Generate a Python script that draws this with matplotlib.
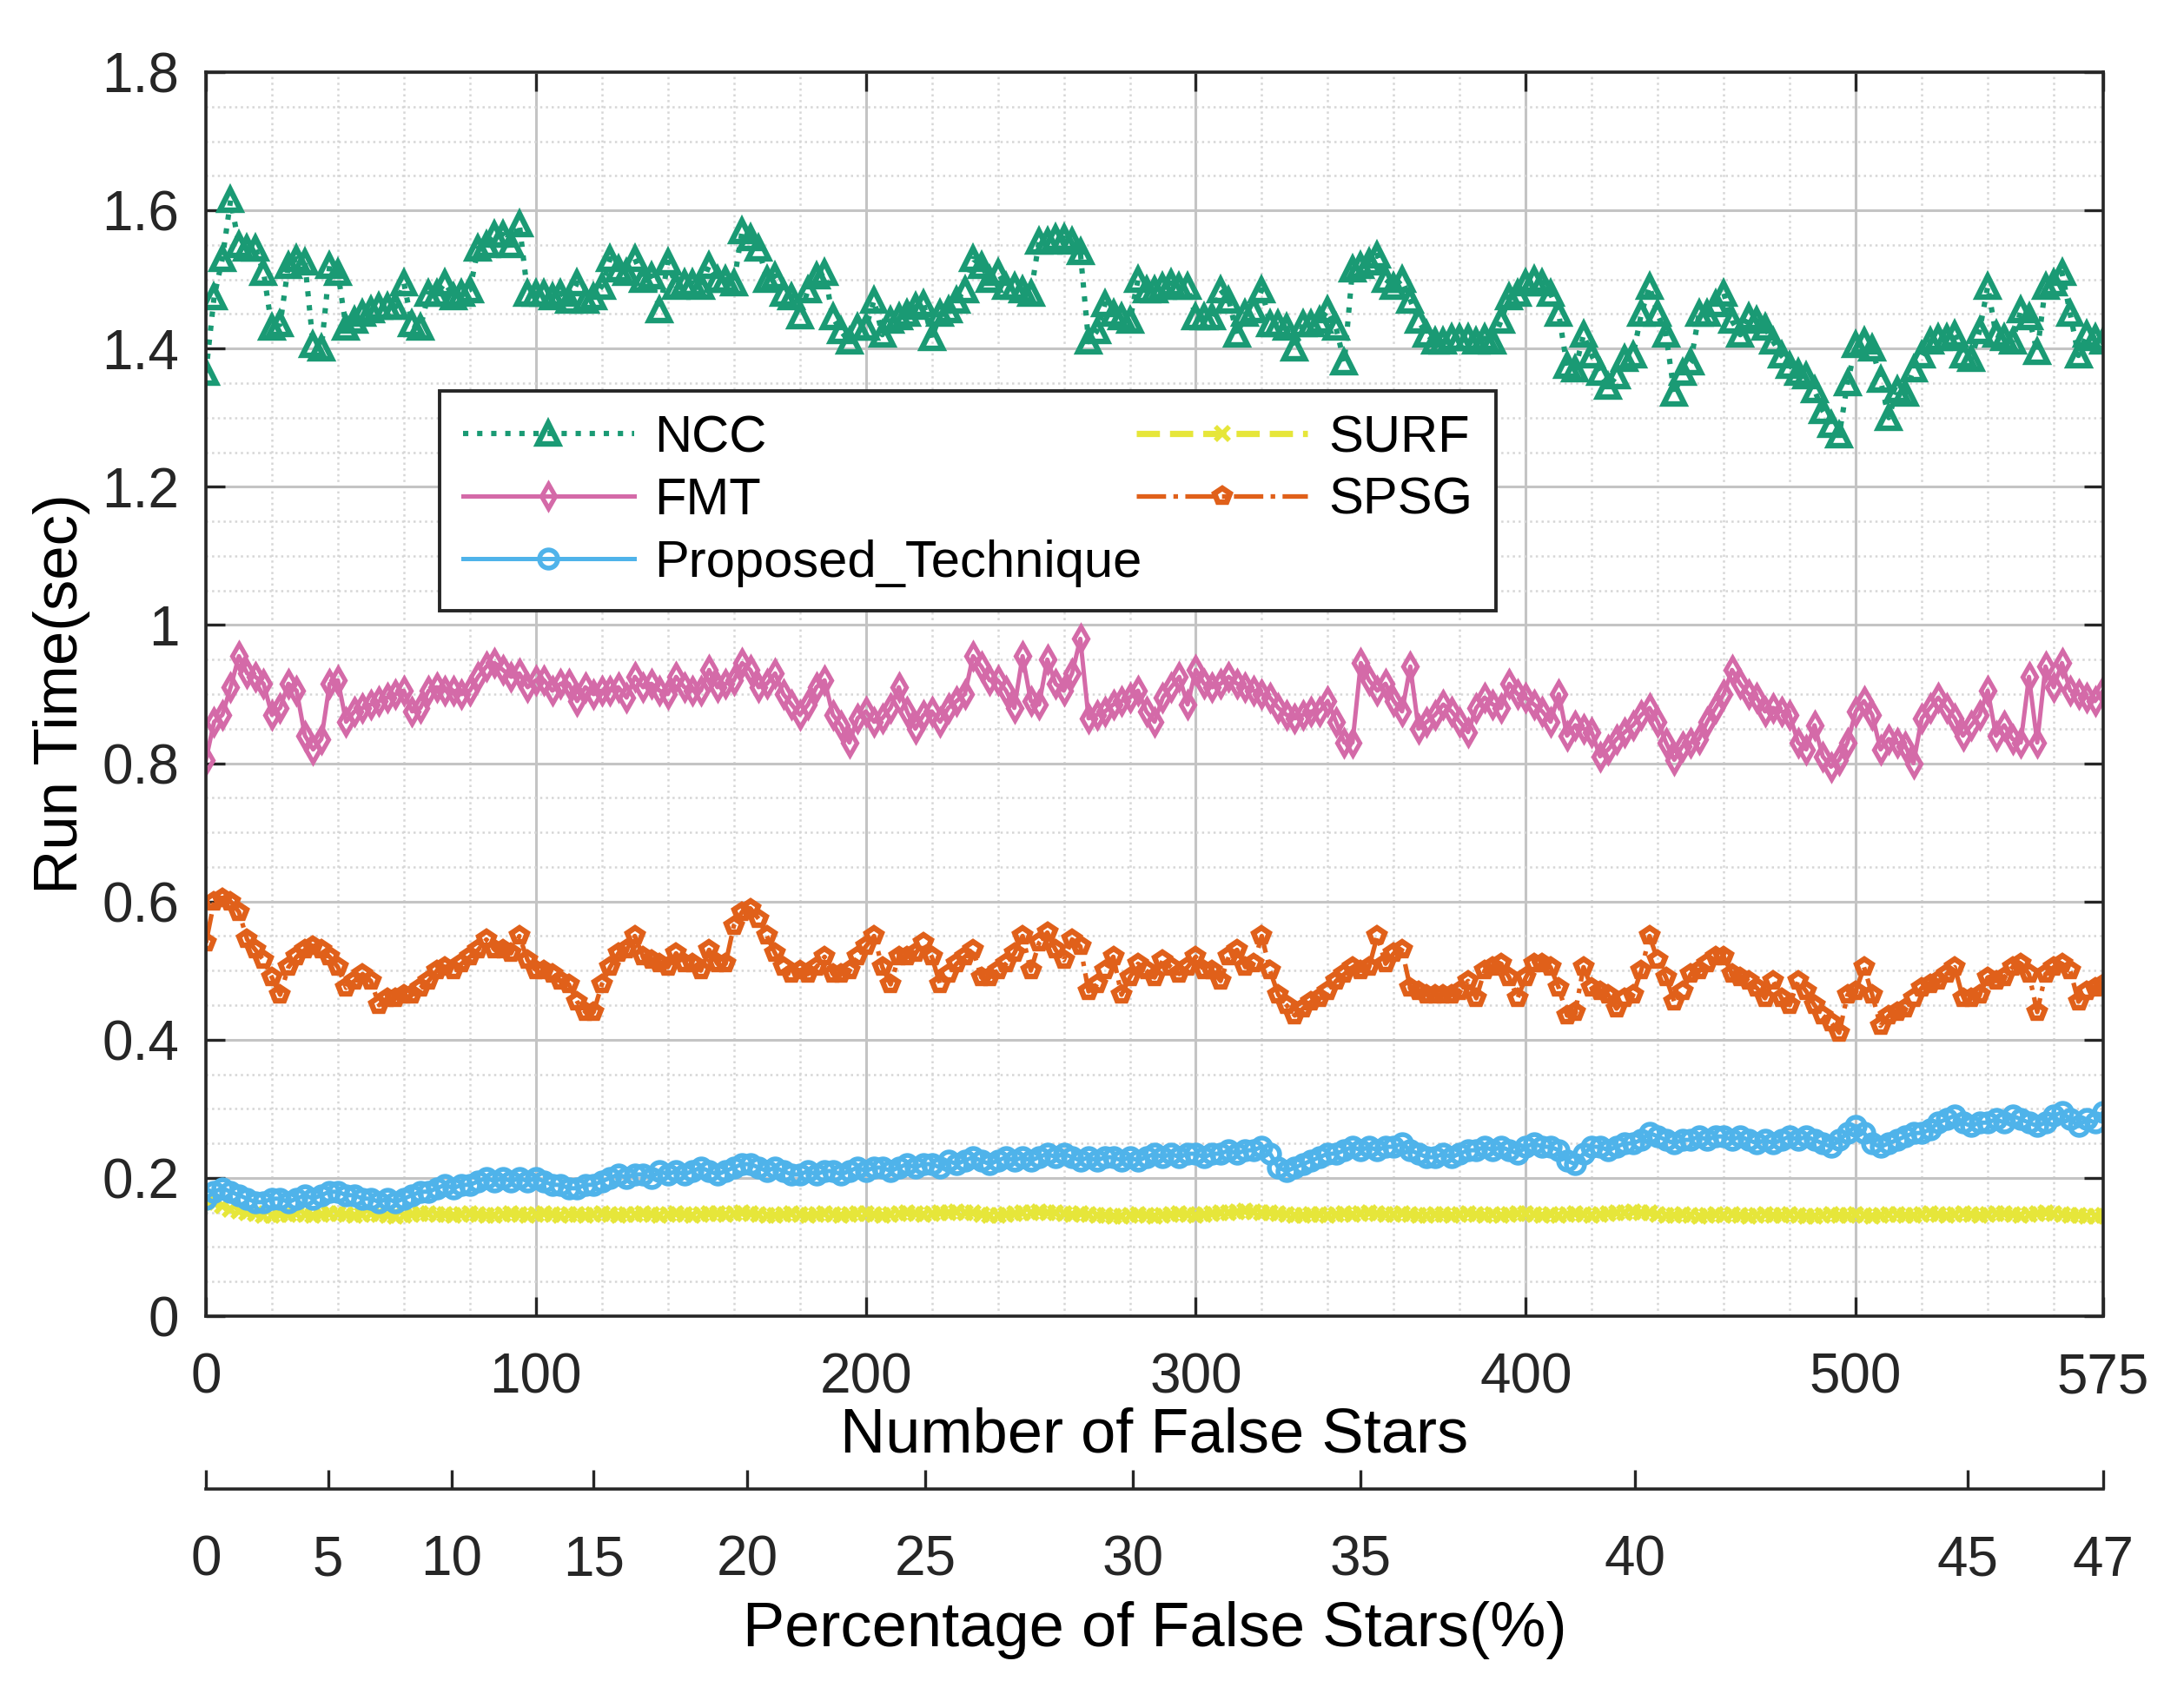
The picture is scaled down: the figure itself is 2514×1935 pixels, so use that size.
import numpy as np
import matplotlib
matplotlib.use("Agg")
import matplotlib.pyplot as plt
from matplotlib.ticker import MultipleLocator

plt.rcParams['font.family'] = ['Liberation Sans', 'DejaVu Sans']

# number of false stars, one run every 2.5
n_false = np.arange(0, 577.5, 2.5)

ncc = [
    1.365, 1.475, 1.53, 1.615, 1.55, 1.545, 1.545, 1.51, 1.43, 1.435,
    1.52, 1.53, 1.525, 1.405, 1.40, 1.52, 1.51, 1.43, 1.44, 1.45,
    1.455, 1.46, 1.46, 1.46, 1.495, 1.435, 1.43, 1.48, 1.48, 1.495,
    1.475, 1.48, 1.485, 1.545, 1.55, 1.565, 1.565, 1.55, 1.58, 1.48,
    1.48, 1.48, 1.475, 1.48, 1.47, 1.495, 1.47, 1.475, 1.49, 1.53,
    1.515, 1.51, 1.53, 1.50, 1.505, 1.455, 1.525, 1.49, 1.495, 1.495,
    1.49, 1.52, 1.50, 1.50, 1.495, 1.57, 1.56, 1.545, 1.50, 1.505,
    1.48, 1.475, 1.447, 1.485, 1.505, 1.51, 1.445, 1.425, 1.41, 1.43,
    1.43, 1.47, 1.42, 1.44, 1.445, 1.45, 1.46, 1.465, 1.415, 1.45,
    1.455, 1.47, 1.485, 1.53, 1.52, 1.50, 1.51, 1.49, 1.49, 1.485,
    1.48, 1.555, 1.555, 1.56, 1.56, 1.555, 1.54, 1.41, 1.425, 1.465,
    1.45, 1.445, 1.44, 1.50, 1.485, 1.485, 1.49, 1.495, 1.49, 1.49,
    1.445, 1.445, 1.445, 1.485, 1.47, 1.42, 1.45, 1.455, 1.485, 1.435,
    1.435, 1.43, 1.40, 1.435, 1.435, 1.44, 1.455, 1.43, 1.38, 1.515,
    1.52, 1.525, 1.535, 1.50, 1.49, 1.50, 1.47, 1.44, 1.42, 1.41,
    1.41, 1.415, 1.415, 1.415, 1.41, 1.415, 1.41, 1.44, 1.475, 1.48,
    1.495, 1.50, 1.495, 1.48, 1.45, 1.375, 1.37, 1.42, 1.39, 1.365,
    1.345, 1.36, 1.385, 1.39, 1.45, 1.49, 1.45, 1.42, 1.335, 1.365,
    1.38, 1.45, 1.45, 1.465, 1.48, 1.44, 1.42, 1.445, 1.44, 1.43,
    1.41, 1.39, 1.375, 1.365, 1.36, 1.34, 1.31, 1.29, 1.275, 1.35,
    1.405, 1.41, 1.40, 1.355, 1.30, 1.34, 1.335, 1.37, 1.39, 1.41,
    1.415, 1.415, 1.42, 1.39, 1.385, 1.425, 1.49, 1.42, 1.415, 1.41,
    1.455, 1.445, 1.395, 1.49, 1.495, 1.51, 1.45, 1.39, 1.42, 1.415,
    1.41,
]

fmt = [
    0.805, 0.86, 0.87, 0.91, 0.955, 0.93, 0.925, 0.915, 0.87, 0.88,
    0.915, 0.905, 0.84, 0.82, 0.835, 0.915, 0.92, 0.86, 0.875, 0.88,
    0.885, 0.89, 0.895, 0.90, 0.905, 0.875, 0.88, 0.905, 0.91, 0.905,
    0.905, 0.90, 0.905, 0.925, 0.94, 0.945, 0.935, 0.925, 0.93, 0.91,
    0.92, 0.92, 0.905, 0.915, 0.915, 0.89, 0.91, 0.90, 0.905, 0.905,
    0.91, 0.895, 0.925, 0.91, 0.915, 0.905, 0.90, 0.925, 0.91, 0.905,
    0.905, 0.935, 0.91, 0.915, 0.92, 0.945, 0.935, 0.91, 0.915, 0.93,
    0.90, 0.885, 0.87, 0.885, 0.91, 0.92, 0.87, 0.855, 0.83, 0.865,
    0.875, 0.86, 0.865, 0.88, 0.91, 0.875, 0.85, 0.87, 0.875, 0.86,
    0.88, 0.89, 0.90, 0.955, 0.94, 0.92, 0.92, 0.905, 0.88, 0.955,
    0.89, 0.885, 0.95, 0.915, 0.905, 0.93, 0.98, 0.865, 0.87, 0.875,
    0.885, 0.89, 0.895, 0.905, 0.875, 0.86, 0.895, 0.91, 0.925, 0.885,
    0.935, 0.915, 0.91, 0.915, 0.925, 0.915, 0.91, 0.905, 0.90, 0.895,
    0.88, 0.87, 0.865, 0.87, 0.875, 0.875, 0.89, 0.86, 0.83, 0.83,
    0.945, 0.92, 0.905, 0.915, 0.89, 0.875, 0.94, 0.85, 0.86, 0.87,
    0.885, 0.875, 0.86, 0.845, 0.88, 0.895, 0.885, 0.88, 0.915, 0.90,
    0.895, 0.885, 0.875, 0.86, 0.90, 0.84, 0.855, 0.85, 0.845, 0.81,
    0.82, 0.835, 0.845, 0.855, 0.87, 0.88, 0.86, 0.83, 0.805, 0.825,
    0.83, 0.835, 0.86, 0.88, 0.90, 0.935, 0.915, 0.90, 0.895, 0.875,
    0.88, 0.875, 0.87, 0.83, 0.82, 0.855, 0.81, 0.795, 0.805, 0.83,
    0.875, 0.89, 0.87, 0.82, 0.835, 0.83, 0.825, 0.80, 0.865, 0.88,
    0.895, 0.88, 0.865, 0.84, 0.855, 0.87, 0.905, 0.84, 0.855, 0.835,
    0.83, 0.925, 0.83, 0.94, 0.91, 0.945, 0.905, 0.90, 0.895, 0.89,
    0.905,
]

spsg = [
    0.54, 0.60, 0.605, 0.60, 0.585, 0.545, 0.53, 0.515, 0.49, 0.465,
    0.505, 0.52, 0.53, 0.535, 0.53, 0.52, 0.505, 0.475, 0.485, 0.495,
    0.485, 0.45, 0.46, 0.46, 0.465, 0.465, 0.475, 0.485, 0.50, 0.505,
    0.50, 0.51, 0.52, 0.53, 0.545, 0.53, 0.53, 0.525, 0.55, 0.515,
    0.50, 0.50, 0.495, 0.485, 0.48, 0.455, 0.44, 0.44, 0.48, 0.505,
    0.525, 0.53, 0.55, 0.52, 0.515, 0.51, 0.505, 0.525, 0.51, 0.51,
    0.50, 0.53, 0.51, 0.51, 0.565, 0.585, 0.59, 0.575, 0.55, 0.525,
    0.505, 0.495, 0.50, 0.495, 0.505, 0.52, 0.495, 0.495, 0.50, 0.52,
    0.535, 0.55, 0.505, 0.48, 0.52, 0.52, 0.525, 0.54, 0.52, 0.48,
    0.495, 0.51, 0.52, 0.53, 0.49, 0.49, 0.50, 0.51, 0.525, 0.55,
    0.50, 0.54, 0.555, 0.53, 0.515, 0.545, 0.535, 0.47, 0.48, 0.50,
    0.52, 0.465, 0.49, 0.51, 0.50, 0.49, 0.515, 0.505, 0.495, 0.505,
    0.52, 0.50, 0.50, 0.485, 0.52, 0.53, 0.505, 0.51, 0.55, 0.50,
    0.465, 0.45, 0.435, 0.445, 0.455, 0.46, 0.47, 0.485, 0.495, 0.505,
    0.50, 0.505, 0.55, 0.51, 0.525, 0.53, 0.475, 0.47, 0.465, 0.465,
    0.465, 0.465, 0.47, 0.485, 0.46, 0.50, 0.505, 0.51, 0.49, 0.46,
    0.49, 0.51, 0.51, 0.505, 0.475, 0.435, 0.44, 0.505, 0.475, 0.47,
    0.465, 0.445, 0.46, 0.465, 0.50, 0.55, 0.515, 0.49, 0.455, 0.47,
    0.495, 0.50, 0.51, 0.52, 0.52, 0.495, 0.49, 0.485, 0.475, 0.46,
    0.485, 0.46, 0.45, 0.485, 0.47, 0.45, 0.435, 0.425, 0.41, 0.465,
    0.47, 0.505, 0.465, 0.42, 0.435, 0.44, 0.445, 0.46, 0.475, 0.48,
    0.485, 0.495, 0.505, 0.46, 0.46, 0.465, 0.49, 0.485, 0.49, 0.505,
    0.51, 0.495, 0.44, 0.495, 0.505, 0.51, 0.50, 0.455, 0.47, 0.475,
    0.48,
]

surf = [
    0.165, 0.165, 0.16, 0.155, 0.152, 0.15, 0.148, 0.146, 0.146, 0.147,
    0.147, 0.148, 0.147, 0.146, 0.147, 0.148, 0.148, 0.147, 0.146, 0.147,
    0.148, 0.147, 0.146, 0.145, 0.146, 0.147, 0.148, 0.148, 0.147, 0.147,
    0.146, 0.147, 0.148, 0.147, 0.146, 0.146, 0.147, 0.148, 0.147, 0.146,
    0.147, 0.148, 0.147, 0.146, 0.147, 0.147, 0.146, 0.147, 0.148, 0.147,
    0.146, 0.147, 0.147, 0.148, 0.147, 0.146, 0.147, 0.148, 0.147, 0.146,
    0.147, 0.148, 0.148, 0.147, 0.148, 0.149, 0.148, 0.147, 0.146, 0.146,
    0.147, 0.148, 0.147, 0.146, 0.147, 0.148, 0.147, 0.146, 0.147, 0.148,
    0.148, 0.147, 0.146, 0.147, 0.148, 0.149, 0.148, 0.147, 0.148, 0.149,
    0.150, 0.151, 0.150, 0.149, 0.147, 0.146, 0.146, 0.147, 0.148, 0.149,
    0.150, 0.151, 0.150, 0.149, 0.148, 0.147, 0.148, 0.147, 0.146, 0.146,
    0.145, 0.145, 0.146, 0.147, 0.146, 0.145, 0.146, 0.147, 0.148, 0.147,
    0.146, 0.147, 0.148, 0.149, 0.150, 0.151, 0.152, 0.151, 0.150, 0.149,
    0.148, 0.147, 0.146, 0.146, 0.147, 0.147, 0.146, 0.147, 0.148, 0.147,
    0.148, 0.149, 0.148, 0.147, 0.147, 0.148, 0.147, 0.146, 0.146, 0.147,
    0.147, 0.146, 0.147, 0.148, 0.147, 0.146, 0.147, 0.146, 0.147, 0.148,
    0.148, 0.147, 0.146, 0.147, 0.146, 0.147, 0.148, 0.147, 0.146, 0.147,
    0.148, 0.149, 0.150, 0.151, 0.150, 0.149, 0.147, 0.146, 0.146, 0.147,
    0.146, 0.145, 0.146, 0.147, 0.146, 0.147, 0.146, 0.145, 0.146, 0.147,
    0.146, 0.146, 0.147, 0.146, 0.145, 0.145, 0.146, 0.147, 0.146, 0.146,
    0.147, 0.146, 0.145, 0.146, 0.147, 0.147, 0.146, 0.146, 0.147, 0.148,
    0.147, 0.146, 0.147, 0.148, 0.147, 0.146, 0.147, 0.148, 0.148, 0.147,
    0.146, 0.147, 0.148, 0.149, 0.148, 0.147, 0.146, 0.146, 0.145, 0.145,
    0.146,
]

proposed = [
    0.17, 0.18, 0.185, 0.18, 0.175, 0.17, 0.165, 0.165, 0.17,
    0.17, 0.165, 0.17, 0.175, 0.17, 0.175, 0.18, 0.18,
    0.175, 0.175, 0.17, 0.17, 0.165, 0.17, 0.165, 0.17,
    0.175, 0.18, 0.18, 0.185, 0.19, 0.185, 0.19, 0.19,
    0.195, 0.2, 0.195, 0.2, 0.195, 0.2, 0.195, 0.2,
    0.195, 0.19, 0.19, 0.185, 0.185, 0.19, 0.19, 0.195,
    0.2, 0.205, 0.2, 0.205, 0.205, 0.2, 0.21, 0.205,
    0.21, 0.205, 0.21, 0.215, 0.21, 0.205, 0.21, 0.215,
    0.22, 0.22, 0.215, 0.21, 0.215, 0.21, 0.205, 0.205,
    0.21, 0.205, 0.21, 0.21, 0.205, 0.21, 0.215, 0.21,
    0.215, 0.215, 0.21, 0.215, 0.22, 0.215, 0.22, 0.22,
    0.215, 0.225, 0.22, 0.225, 0.23, 0.225, 0.22, 0.225,
    0.23, 0.225, 0.23, 0.225, 0.23, 0.235, 0.23, 0.235,
    0.23, 0.225, 0.23, 0.225, 0.23, 0.23, 0.225, 0.23,
    0.225, 0.23, 0.235, 0.23, 0.235, 0.23, 0.235, 0.235,
    0.23, 0.235, 0.235, 0.24, 0.235, 0.24, 0.24, 0.245,
    0.235, 0.215, 0.21, 0.215, 0.22, 0.225, 0.23, 0.235,
    0.235, 0.24, 0.245, 0.24, 0.245, 0.24, 0.245, 0.245,
    0.25, 0.24, 0.235, 0.23, 0.23, 0.235, 0.23, 0.235,
    0.24, 0.24, 0.245, 0.24, 0.245, 0.24, 0.235, 0.245,
    0.25, 0.245, 0.245, 0.24, 0.225, 0.22, 0.235, 0.245,
    0.245, 0.24, 0.245, 0.25, 0.25, 0.255, 0.265, 0.26,
    0.255, 0.25, 0.255, 0.255, 0.26, 0.255, 0.26, 0.26,
    0.255, 0.26, 0.255, 0.25, 0.255, 0.25, 0.255, 0.26,
    0.255, 0.26, 0.255, 0.25, 0.245, 0.255, 0.265, 0.275,
    0.265, 0.25, 0.245, 0.25, 0.255, 0.26, 0.265, 0.265,
    0.27, 0.28, 0.285, 0.29, 0.28, 0.275, 0.28, 0.28,
    0.285, 0.28, 0.29, 0.285, 0.28, 0.275, 0.28, 0.29,
    0.295, 0.285, 0.275, 0.285, 0.28, 0.295,
]

x_ticks = [0, 100, 200, 300, 400, 500, 575]
y_ticks = [0, 0.2, 0.4, 0.6, 0.8, 1.0, 1.2, 1.4, 1.6, 1.8]
y_tick_labels = ['0', '0.2', '0.4', '0.6', '0.8', '1', '1.2', '1.4', '1.6', '1.8']

# percentage axis: labels and where they sit on the false-star scale
pct_labels = ['0', '5', '10', '15', '20', '25', '30', '35', '40', '45', '47']
pct_pos = [0, 37, 74.5, 117.5, 164, 218, 281, 350, 433, 534, 575]

c_ncc = '#1a9a74'
c_fmt = '#d46aa8'
c_prop = '#4fb3ea'
c_surf = '#e6e63a'
c_spsg = '#e0601a'

fig = plt.figure(figsize=(12.57, 9.675), dpi=200)
ax = fig.add_axes([0.09427, 0.21705, 0.86874, 0.74005])

h_ncc, = ax.plot(n_false, ncc, ls=':', color=c_ncc, lw=2.2, marker='^', ms=8.5,
                 mfc='none', mew=2.3, label='NCC')
h_fmt, = ax.plot(n_false, fmt, ls='-', color=c_fmt, lw=1.8, marker='d', ms=7,
                 mfc='none', mew=1.9, label='FMT')
h_surf, = ax.plot(n_false, surf, ls='--', color=c_surf, lw=2.6, marker='x', ms=5.5,
                  mew=2.0, label='SURF')
h_spsg, = ax.plot(n_false, spsg, ls='-.', color=c_spsg, lw=1.9, marker='p', ms=6.5,
                  mfc='none', mew=2.3, label='SPSG')
h_prop, = ax.plot(n_false, proposed, ls='-', color=c_prop, lw=1.8, marker='o', ms=7.5,
                  mfc='none', mew=2.0, label='Proposed_Technique')

ax.set_xlim(0, 575)
ax.set_ylim(0, 1.8)
ax.set_xticks(x_ticks)
ax.set_yticks(y_ticks)
ax.set_yticklabels(y_tick_labels)
ax.xaxis.set_minor_locator(MultipleLocator(20))
ax.yaxis.set_minor_locator(MultipleLocator(0.05))
ax.grid(which='major', color='#c4c4c4', lw=1.1, ls='-')
ax.grid(which='minor', color='#d6d6d6', lw=0.9, ls=':')
ax.set_axisbelow(True)

ax.tick_params(which='major', direction='in', length=8, width=1.2,
               top=True, right=True, labelsize=23, colors='#262626')
ax.tick_params(axis='x', which='major', pad=15)
ax.tick_params(axis='y', which='major', pad=11)
ax.tick_params(which='minor', length=0)
for s in ax.spines.values():
    s.set_linewidth(1.3)
    s.set_color('#262626')

ax.set_xlabel('Number of False Stars', fontsize=26, labelpad=1)
ax.set_ylabel('Run Time(sec)', fontsize=25.5, labelpad=5)

leg = ax.legend(handles=[h_ncc, h_fmt, h_prop, h_surf, h_spsg], ncol=2,
                loc='upper left', bbox_to_anchor=(0.123, 0.5775, 0.557, 0.166),
                mode='expand', borderaxespad=0, fontsize=21.5, handlelength=3.3,
                handletextpad=0.4, labelspacing=0.28, borderpad=0.45, numpoints=1,
                fancybox=False, framealpha=1, edgecolor='#262626')
leg.get_frame().set_linewidth(1.4)

# second scale below: percentage of false stars
ax2 = fig.add_axes([0.09427, 0.1142, 0.86874, 0.0001])
ax2.set_xlim(0, 575)
ax2.set_xticks(pct_pos)
ax2.set_xticklabels(pct_labels)
ax2.set_yticks([])
ax2.patch.set_visible(False)
for side in ['top', 'left', 'right']:
    ax2.spines[side].set_visible(False)
ax2.spines['bottom'].set_linewidth(1.3)
ax2.spines['bottom'].set_color('#262626')
ax2.tick_params(axis='x', direction='in', length=8, width=1.2, pad=19,
                labelsize=23, colors='#262626')
ax2.set_xlabel('Percentage of False Stars(%)', fontsize=26, labelpad=6)

fig.savefig('out.png', dpi=200)
